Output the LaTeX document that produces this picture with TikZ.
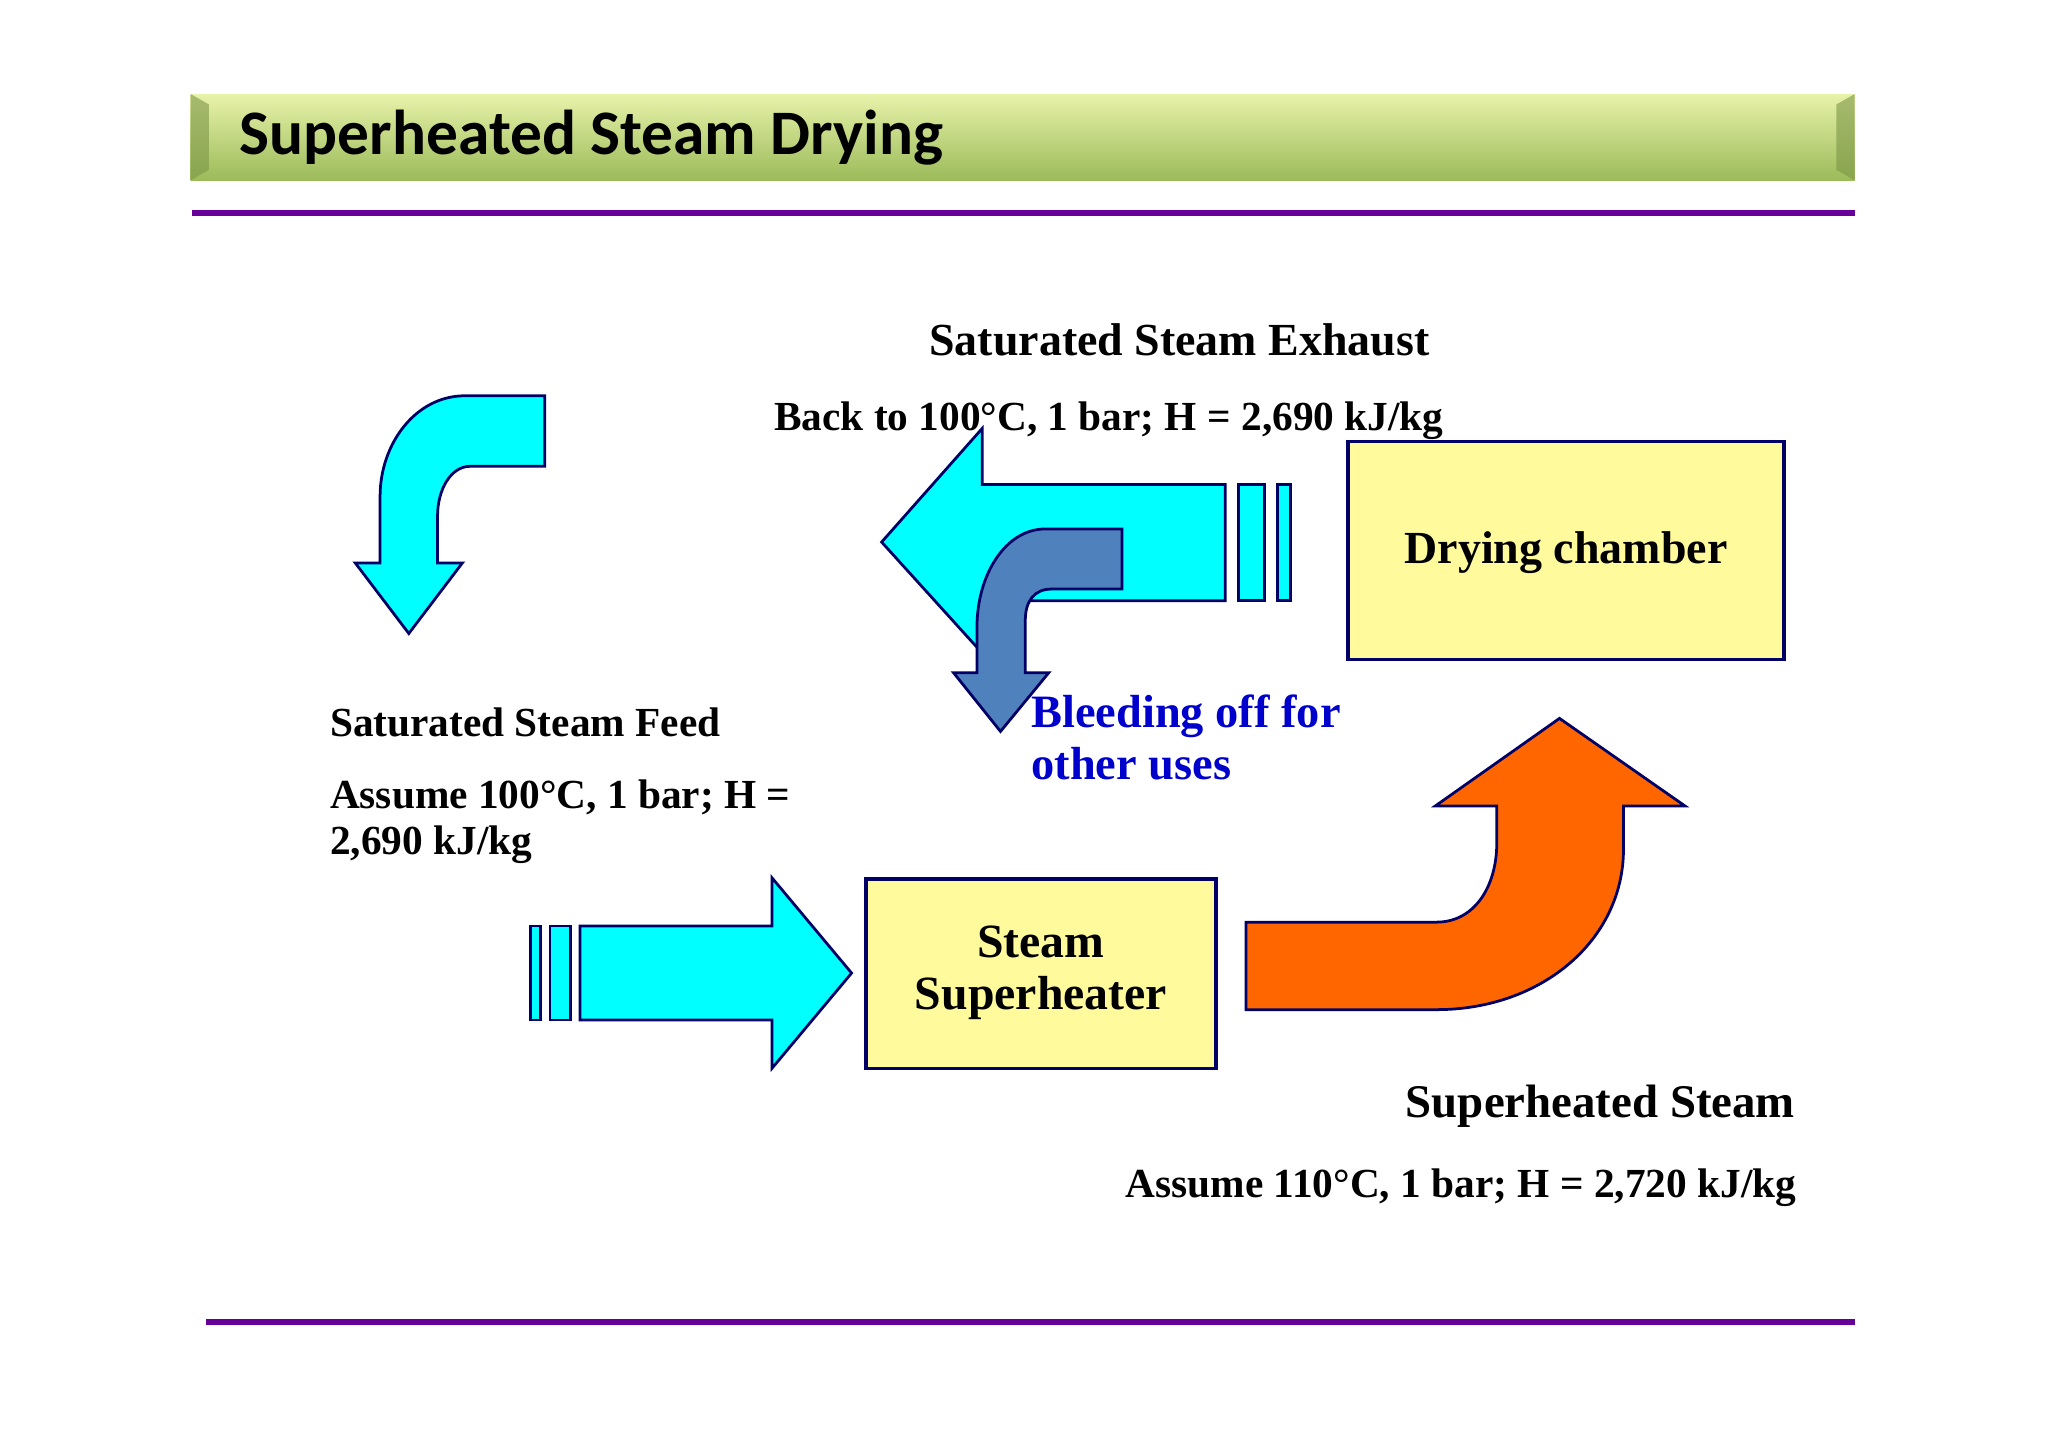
\documentclass[tikz,border=0pt]{standalone}
\usepackage{fontspec}
\setmainfont{Liberation Serif}
\newfontfamily\titlefont{Carlito}
\definecolor{cy}{RGB}{0,255,255}
\definecolor{org}{RGB}{255,102,0}
\definecolor{bleed}{RGB}{79,129,189}
\definecolor{bx}{RGB}{255,250,155}
\definecolor{tg1}{RGB}{232,242,170}
\definecolor{tg2}{RGB}{155,187,89}
\begin{document}
\begin{tikzpicture}[x=0.01cm,y=-0.01cm,
  lbl/.style={font=\bfseries\fontsize{9}{12}\selectfont,inner sep=0pt},
  box/.style={draw=blue!40!black,fill=bx,line width=0.8pt},
  cyanarr/.style={fill=cy,draw=blue!40!black,line width=0.6pt}]
\useasboundingbox (0,0) rectangle (1568,1108.6);
\fill[white] (0,0) rectangle (1568,1108.6);
% title bar
\shade[top color=tg1,bottom color=tg2] (146,72) rectangle (1420,138);
\fill[tg2!80!black,opacity=0.6] (146,72) -- (160,80) -- (160,130) -- (146,138) -- cycle;
\fill[tg2!80!black,opacity=0.6] (1420,72) -- (1406,80) -- (1406,130) -- (1420,138) -- cycle;
\node[anchor=west,inner sep=0pt,font=\titlefont\bfseries\fontsize{13.8}{15}\selectfont] (title) at (183,105) {Superheated Steam Drying};
\draw[violet!80!blue,line width=1.2pt] (147,163) -- (1420,163);
\draw[violet!80!blue,line width=1.2pt] (158,1012) -- (1420,1012);
% top-left curved arrow
\path[cyanarr] (417,303) -- (356,303) .. controls (318,303) and (291,340) .. (291,380) -- (291,431) -- (272,431) -- (313,485) -- (354,431) -- (335,431) -- (335,395) .. controls (335,375) and (345,357) .. (360,357) -- (417,357) -- cycle;
% exhaust arrow
\path[cyanarr] (938,371) -- (752,371) -- (752,328) -- (675,415) -- (752,500) -- (752,460) -- (938,460) -- cycle;
\path[cyanarr] (948,371) rectangle (968,460);
\path[cyanarr] (978,371) rectangle (988,460);
% bleeding arrow
\path[fill=bleed,draw=blue!40!black,line width=0.6pt] (859,405) -- (800,405) .. controls (770,405) and (748,440) .. (748,480) -- (748,515) -- (730,515) -- (766,560) -- (803,515) -- (785,515) -- (785,475) .. controls (785,460) and (792,451) .. (805,451) -- (859,451) -- cycle;
% feed arrow
\path[cyanarr] (406,709) rectangle (414,781);
\path[cyanarr] (421,709) rectangle (437,781);
\path[cyanarr] (444,709) -- (591,709) -- (591,672) -- (652,745) -- (591,818) -- (591,781) -- (444,781) -- cycle;
% orange arrow
\path[fill=org,draw=blue!40!black,line width=0.6pt] (954,706) -- (1100,706) .. controls (1128,706) and (1146,680) .. (1146,645) -- (1146,617) -- (1099,617) -- (1194,550) -- (1290,617) -- (1243,617) -- (1243,650) .. controls (1243,720) and (1180,773) .. (1100,773) -- (954,773) -- cycle;
% boxes
\draw[box] (663,673) rectangle (931,818);
\node[lbl,align=center,font=\bfseries\fontsize{10.4}{11.4}\selectfont] (sh) at (797,745) {Steam\\Superheater};
\draw[box] (1032,338) rectangle (1366,505);
\node[lbl,font=\bfseries\fontsize{10}{14}\selectfont] (dc) at (1199,423) {Drying chamber};
% texts
\node[lbl,font=\bfseries\fontsize{10}{12}\selectfont] (t1) at (903,260) {Saturated Steam Exhaust};
\node[lbl,anchor=west] (t2) at (592,322) {Back to 100°C, 1 bar; H = 2,690 kJ/kg};
\node[lbl,anchor=north west,align=left,text=blue!80!black,font=\bfseries\fontsize{10.1}{11.4}\selectfont] (t3) at (789,531) {Bleeding off for\\other uses};
\node[lbl,anchor=west] (t4) at (252,553) {Saturated Steam Feed};
\node[lbl,anchor=north west,align=left,font=\bfseries\fontsize{9}{10.2}\selectfont] (t5) at (252,596) {Assume 100°C, 1 bar; H =\\2,690 kJ/kg};
\node[lbl,anchor=east,font=\bfseries\fontsize{10.2}{13}\selectfont] (t6) at (1375,847) {Superheated Steam};
\node[lbl,anchor=east] (t7) at (1376,909) {Assume 110°C, 1 bar; H = 2,720 kJ/kg};
\end{tikzpicture}
\end{document}
